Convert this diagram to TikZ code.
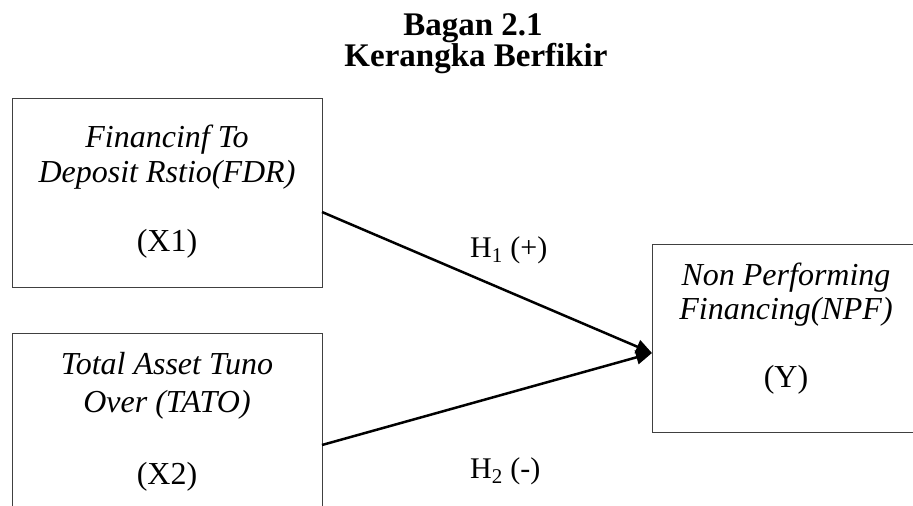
\documentclass[tikz,border=0pt]{standalone}
\usepackage{fontspec}
\setmainfont{Liberation Serif}
\usetikzlibrary{arrows.meta,calc}
\begin{document}
\begin{tikzpicture}[x=1pt,y=-1pt,
  box/.style={draw=black!75,line width=0.9pt,rectangle,inner sep=0pt,outer sep=0pt,anchor=north west},
  txt/.style={inner sep=0pt,anchor=base,font=\fontsize{32}{35}\selectfont\itshape},
  txtup/.style={inner sep=0pt,anchor=base,font=\fontsize{32}{35}\selectfont},
  ttl/.style={inner sep=0pt,anchor=base,font=\fontsize{33}{35}\selectfont\bfseries},
  lab/.style={inner sep=0pt,anchor=base west,font=\fontsize{30}{34}\selectfont},
  conn/.style={line width=2.5pt,-{Triangle[length=16pt,width=14pt]}}]
\useasboundingbox (0,0) rectangle (913,506);
% title
\node[ttl] (t1) at (473,35) {Bagan 2.1};
\node[ttl] (t2) at (476,66) {Kerangka Berfikir};
% boxes
\node[box,minimum width=310,minimum height=189] (x1) at (12,98) {};
\node[box,minimum width=310,minimum height=189] (x2) at (12,333) {};
\node[box,minimum width=268,minimum height=188] (y) at (652,244) {};
% box texts
\node[txt] (a1) at (167,147) {Financinf To};
\node[txt] (a2) at (167,182) {Deposit Rstio(FDR)};
\node[txtup] (a3) at (167,251) {(X1)};
\node[txt] (b1) at (167,374) {Total Asset Tuno};
\node[txt] (b2) at (167,412) {Over (TATO)};
\node[txtup] (b3) at (167,484) {(X2)};
\node[txt] (c1) at (786,285) {Non Performing};
\node[txt] (c2) at (786,319) {Financing(NPF)};
\node[txtup] (c3) at (786,387) {(Y)};
% connectors
\draw[conn] ([yshift=-19.5pt]x1.east) -- ([yshift=-15pt]y.west);
\draw[conn] ([yshift=-17.5pt]x2.east) -- ([yshift=-15pt]y.west);
% labels
\node[lab] (h1) at (470,257) {H\textsubscript{1} (+)};
\node[lab] (h2) at (470,478) {H\textsubscript{2} (-)};
\end{tikzpicture}
\end{document}
